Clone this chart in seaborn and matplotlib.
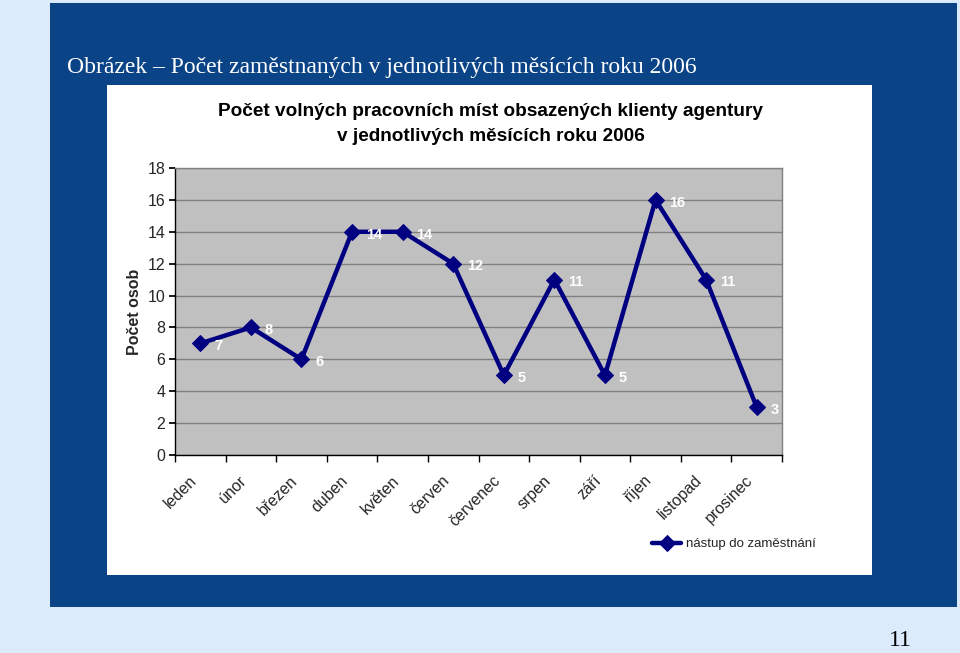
"""Počet zaměstnaných v jednotlivých měsících roku 2006 - line chart."""

import matplotlib

matplotlib.use("Agg")
import matplotlib.pyplot as plt
import matplotlib.transforms as mtransforms
import numpy as np
import pandas as pd
import seaborn as sns
from matplotlib.patches import Rectangle

months = [
    "leden", "únor", "březen", "duben", "květen", "červen",
    "červenec", "srpen", "září", "říjen", "listopad", "prosinec",
]
hires = [7, 8, 6, 14, 14, 12, 5, 11, 5, 16, 11, 3]
y_ticks = [0, 2, 4, 6, 8, 10, 12, 14, 16, 18]

slide_title = "Obrázek – Počet zaměstnaných v jednotlivých měsících roku 2006"
chart_title = "Počet volných pracovních míst obsazených klienty agentury\nv jednotlivých měsících roku 2006"
series_name = "nástup do zaměstnání"

W, H = 960, 653
PAGE_BG = "#DCEBFC"
PANEL = "#0B4486"
NAVY = "#000080"
PLOT_BG = "#C0C0C0"

sns.set_theme(style="white")
plt.rcParams["font.family"] = ["Liberation Sans", "DejaVu Sans"]

fig = plt.figure(figsize=(W / 100, H / 100), dpi=100)
fig.patch.set_facecolor(PAGE_BG)


def px_rect(x0, y0, x1, y1, color):
    fig.patches.append(
        Rectangle((x0 / W, 1 - y1 / H), (x1 - x0) / W, (y1 - y0) / H,
                  transform=fig.transFigure, facecolor=color, edgecolor="none", zorder=-2)
    )


px_rect(50, 3, 957, 607, PANEL)
px_rect(107, 85, 872, 575, "white")

fig.text(67 / W, 1 - 68 / H, slide_title, color="white", fontsize=17,
         family=["Liberation Serif", "DejaVu Serif"], va="center", ha="left")
fig.text(491 / W, 1 - 124 / H, chart_title, color="black", fontsize=13.7,
         fontweight="bold", ha="center", va="center", linespacing=1.65)
fig.text(912 / W, 1 - 641 / H, "11", color="black", fontsize=17,
         family=["Liberation Serif", "DejaVu Serif"], ha="right", va="center")

left, right, top, bottom = 175, 782, 168, 455
ax = fig.add_axes([left / W, 1 - bottom / H, (right - left) / W, (bottom - top) / H])
ax.set_zorder(2)
ax.set_facecolor(PLOT_BG)

data = pd.DataFrame({"month": np.arange(len(months)), "hires": hires})
sns.lineplot(data=data, x="month", y="hires", ax=ax, color=NAVY, linewidth=3.2,
             marker="D", markersize=8, markeredgecolor=NAVY, label=series_name,
             zorder=3)

for i, v in enumerate(hires):
    ax.annotate(str(v), (i, v), xytext=(10, -2), textcoords="offset points",
                color="white", fontweight="bold", fontsize=10.5, ha="left", va="center",
                zorder=4)

ax.set_xlim(-0.5, len(months) - 0.5)
ax.set_ylim(0, 18)
ax.set_yticks(y_ticks)
ax.set_yticklabels([str(t) for t in y_ticks], fontsize=11.5)
ax.yaxis.grid(True, color="#808080", linewidth=1)
ax.set_axisbelow(True)

# month names: slanted, hanging a bit left of each category centre
ax.set_xticks(np.arange(len(months)))
ax.set_xticklabels([])
label_offset = mtransforms.ScaledTranslation(-6 / 100, -23 / 100, fig.dpi_scale_trans)
for i, name in enumerate(months):
    ax.text(i, 0, name, transform=ax.get_xaxis_transform() + label_offset,
            rotation=45, rotation_mode="anchor", ha="right", va="center",
            fontsize=11.5, clip_on=False)

ax.set_xticks(np.arange(len(months) + 1) - 0.5, minor=True)
ax.tick_params(axis="x", which="major", length=0)
ax.tick_params(axis="x", which="minor", length=5, color="black", direction="out", bottom=True)
ax.tick_params(axis="y", length=4, color="black", direction="out", left=True, pad=3)

ax.set_xlabel("")
ax.set_ylabel("Počet osob", fontsize=11.5, fontweight="bold", labelpad=4)

for side in ["top", "right"]:
    ax.spines[side].set_color("#808080")
    ax.spines[side].set_linewidth(1)
for side in ["left", "bottom"]:
    ax.spines[side].set_color("black")
    ax.spines[side].set_linewidth(1)

leg = ax.legend(loc="center left", bbox_to_anchor=(652 / W, 1 - 544 / H),
                bbox_transform=fig.transFigure, frameon=False, fontsize=9.5,
                handlelength=2.2, handletextpad=0.35, borderaxespad=0, borderpad=0)

fig.savefig("out.png", dpi=100, facecolor=fig.get_facecolor())
